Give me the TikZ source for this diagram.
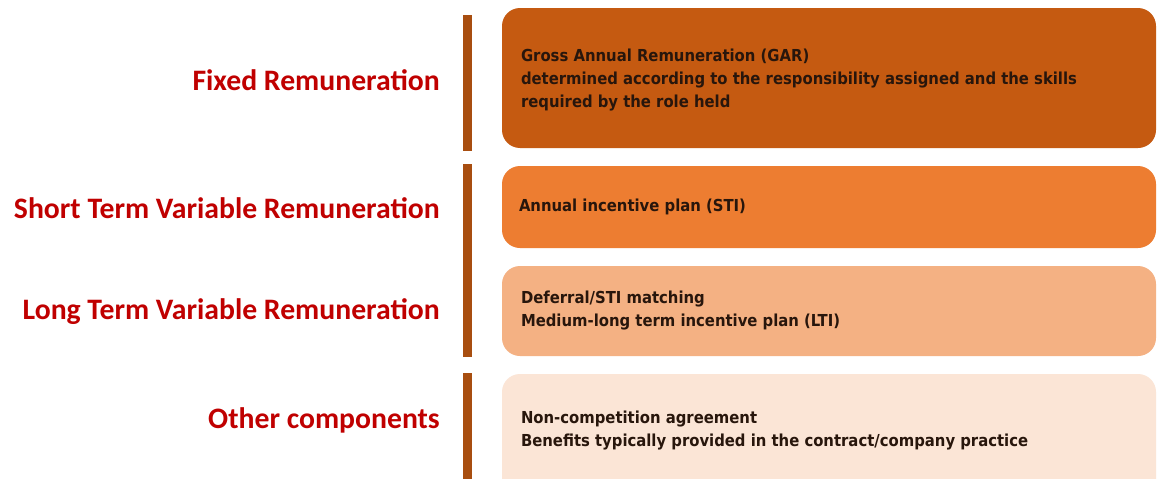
\documentclass[tikz,border=0pt]{standalone}
\usepackage{fontspec}
\setmainfont{DejaVu Sans Condensed}
\newfontfamily\labelfont{Carlito}
\definecolor{remred}{RGB}{192,0,0}
\definecolor{barbrown}{RGB}{168,78,16}
\definecolor{fixedfill}{RGB}{197,90,17}
\definecolor{stifill}{RGB}{237,125,49}
\definecolor{ltifill}{RGB}{244,177,131}
\definecolor{otherfill}{RGB}{251,229,214}
\definecolor{boxtextcol}{RGB}{40,22,12}
\usetikzlibrary{positioning}

\begin{document}
\begin{tikzpicture}[
  x=1pt, y=-1pt,
  rowlabel/.style={anchor=east, font=\labelfont\bfseries\fontsize{29.7}{32}\selectfont, text=remred, inner sep=0pt},
  compbox/.style={rectangle, rounded corners=18pt, minimum width=654pt, inner sep=0pt, draw=none},
  boxtext/.style={anchor=west, align=left, font=\bfseries\fontsize{16.5}{23}\selectfont, text=boxtextcol, inner sep=0pt},
  sepbar/.style={line width=9pt, draw=barbrown},
]
\clip (0,0) rectangle (1157,479);
\fill[white] (0,0) rectangle (1157,479);

% Component boxes
\node[compbox, fill=fixedfill, minimum height=140pt] (gar) at (829,78) {};
\node[compbox, fill=stifill, minimum height=82pt] (sti) at (829,207) {};
\node[compbox, fill=ltifill, minimum height=90pt] (lti) at (829,311) {};
\node[compbox, fill=otherfill, minimum height=126pt] (other) at (829,437) {};

% Box texts
\node[boxtext] (gartext) at ([xshift=19pt,yshift=-2pt]gar.west) {Gross Annual Remuneration (GAR)\\determined according to the responsibility assigned and the skills\\required by the role held};
\node[boxtext] (stitext) at ([xshift=17pt]sti.west) {Annual incentive plan (STI)};
\node[boxtext] (ltitext) at ([xshift=19pt]lti.west) {Deferral/STI matching\\Medium-long term incentive plan (LTI)};
\node[boxtext] (othertext) at ([xshift=19pt,yshift=6pt]other.west) {Non-competition agreement\\Benefits typically provided in the contract/company practice};

% Row labels
\node[rowlabel] (fixedlab) at (440,80) {Fixed Remuneration};
\node[rowlabel] (stilab) at (440,208) {Short Term Variable Remuneration};
\node[rowlabel] (ltilab) at (440,312) {Long Term Variable Remuneration};
\node[rowlabel] (otherlab) at (440,420) {Other components};

% Separator bars
\draw[sepbar] (467,15) -- (467,151);
\draw[sepbar] (467,164) -- (467,357);
\draw[sepbar] (467,373) -- (467,485);

\end{tikzpicture}
\end{document}
